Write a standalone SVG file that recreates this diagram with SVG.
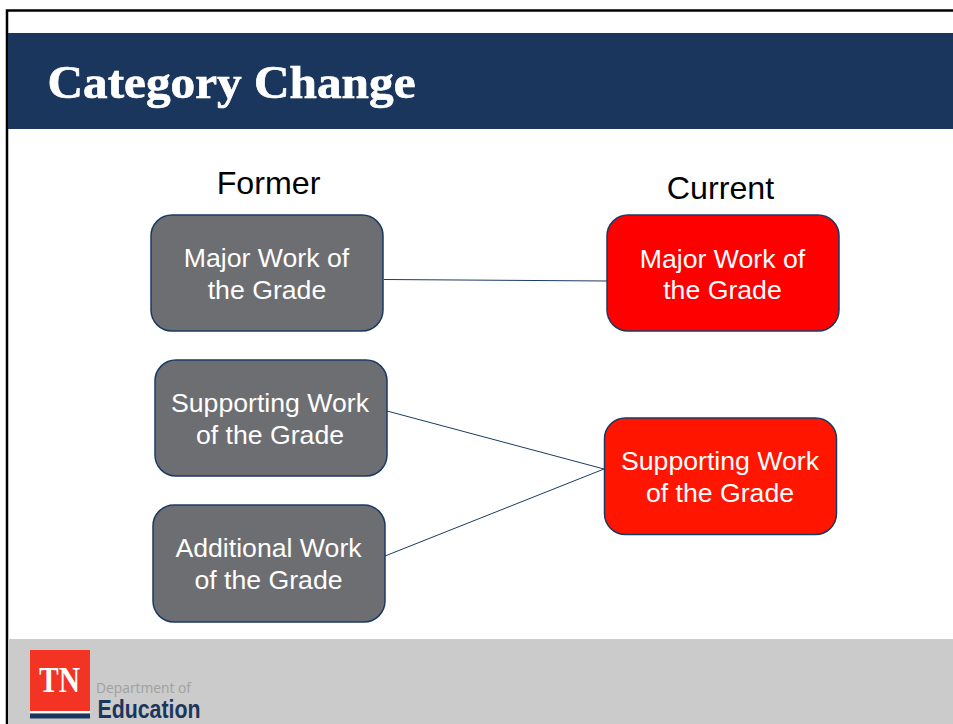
<svg xmlns="http://www.w3.org/2000/svg" width="953" height="724" viewBox="0 0 953 724">
<style>
.n{stroke:#1b3a63;stroke-width:1.5}
.g{fill:#6d6e71}
.r{fill:#ff0000}
.t{font-family:"Liberation Sans",Arial,sans-serif;font-size:26.670px;fill:#fff;text-anchor:middle}
.h{font-family:"Liberation Sans",Arial,sans-serif;font-size:32.200px;fill:#000;text-anchor:middle}
.c{stroke:#1b3a63;stroke-width:1;fill:none}
</style>
<rect width="953" height="724" fill="#fff"/>
<path d="M7 724V10.500H953" fill="none" stroke="#000" stroke-width="2.500"/>
<rect id="title-bar" x="8" y="33" width="945" height="96" fill="#1b365d"/>
<text x="47.500" y="98" font-family="'Liberation Serif',Georgia,serif" font-weight="700" font-size="47" fill="#fff" stroke="#fff" stroke-width="0.700" textLength="368" lengthAdjust="spacingAndGlyphs">Category Change</text>
<rect id="footer" x="8" y="639" width="945" height="85" fill="#cbcbcb"/>
<g id="logo">
<rect x="30" y="650" width="60" height="61" fill="#f33324"/>
<rect x="30" y="711" width="60" height="2.500" fill="#fff"/>
<rect x="30" y="713.500" width="60" height="5" fill="#1b365d"/>
<text x="39" y="692" font-family="'Liberation Serif',serif" font-weight="700" font-size="35" fill="#fff" textLength="41" lengthAdjust="spacingAndGlyphs">TN</text>
<text x="96" y="693" font-family="'Open Sans','Liberation Sans',sans-serif" font-size="14" fill="#a0a0a0" textLength="95" lengthAdjust="spacingAndGlyphs">Department of</text>
<text x="97.500" y="718" font-family="'Liberation Sans',sans-serif" font-weight="700" font-size="25" fill="#1b365d" textLength="103" lengthAdjust="spacingAndGlyphs">Education</text>
</g>
<text id="former" class="h" x="268.500" y="194">Former</text>
<text id="current" class="h" x="720.500" y="199">Current</text>
<g id="connectors">
<line class="c" x1="384" y1="279.500" x2="607" y2="281"/>
<line class="c" x1="387" y1="411" x2="604" y2="469"/>
<line class="c" x1="385" y1="556" x2="604" y2="469"/>
</g>
<g id="former-major"><rect class="n g" x="151" y="215" width="232" height="116" rx="21"/><text class="t" x="266.500" y="267">Major Work of</text><text class="t" x="267" y="299">the Grade</text></g>
<g id="former-supporting"><rect class="n g" x="155" y="360" width="232" height="116" rx="21"/><text class="t" x="270" y="412">Supporting Work</text><text class="t" x="270" y="444">of the Grade</text></g>
<g id="former-additional"><rect class="n g" x="153" y="505" width="232" height="117" rx="21"/><text class="t" x="268.500" y="557">Additional Work</text><text class="t" x="268.500" y="589">of the Grade</text></g>
<g id="current-major"><rect class="n r" x="607" y="215" width="232" height="116" rx="21"/><text class="t" x="722.500" y="268">Major Work of</text><text class="t" x="722.500" y="299">the Grade</text></g>
<g id="current-supporting"><rect class="n" fill="#ff1500" x="604.500" y="418" width="232" height="116.500" rx="21"/><text class="t" x="720" y="470">Supporting Work</text><text class="t" x="720" y="502">of the Grade</text></g>
</svg>
